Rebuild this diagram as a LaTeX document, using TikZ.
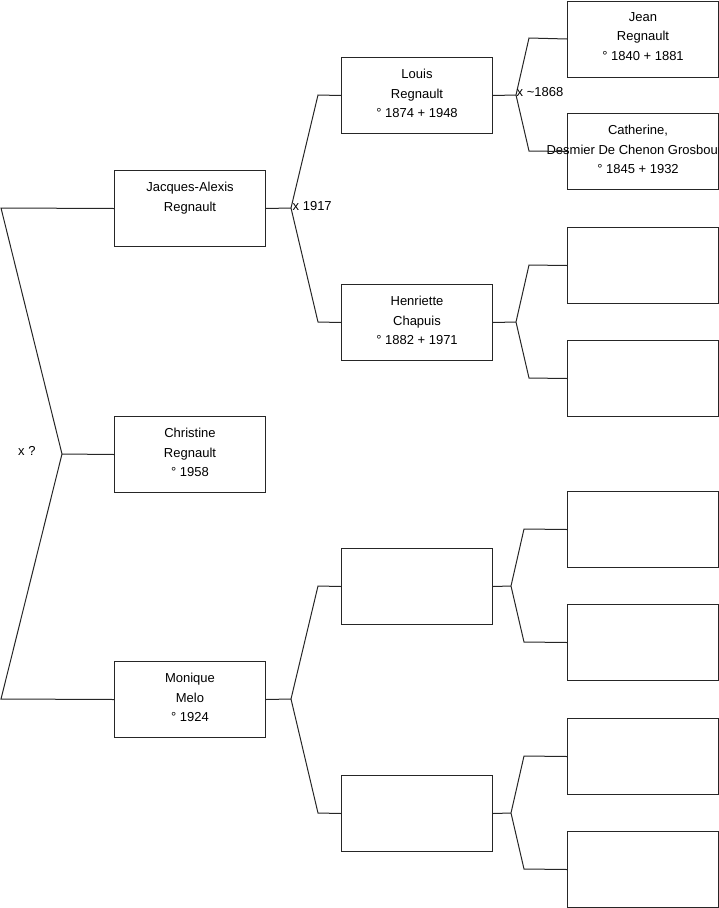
\documentclass[tikz,border=0pt]{standalone}
\usepackage{fontspec}
\setmainfont{Liberation Sans}
\definecolor{linec}{HTML}{262626}
\begin{document}
\begin{tikzpicture}[x=1pt,y=-1pt,
  box/.style={draw=linec, line width=1pt, minimum width=151pt, minimum height=76pt, inner sep=0pt, anchor=north west},
  txt/.style={anchor=north, align=center, inner sep=0pt, font=\fontsize{13}{19.5}\selectfont},
  conn/.style={draw=linec, line width=1pt},
  lbl/.style={anchor=west, inner sep=0pt, font=\fontsize{13}{15}\selectfont}]
\useasboundingbox (0,0) rectangle (719,908);
\clip (0,0) rectangle (719,908);
% generation 1
\node[box] (C) at (114,416) {};
% generation 2
\node[box] (JA) at (114,170) {};
\node[box] (M) at (114,661) {};
% generation 3
\node[box] (L) at (341,57) {};
\node[box] (H) at (341,284) {};
\node[box] (E1) at (341,548) {};
\node[box] (E2) at (341,775) {};
% generation 4
\node[box] (J) at (567,0.5) {};
\node[box] (Ca) at (567,113) {};
\node[box] (G3) at (567,227) {};
\node[box] (G4) at (567,340) {};
\node[box] (G5) at (567,491) {};
\node[box] (G6) at (567,604) {};
\node[box] (G7) at (567,718) {};
\node[box] (G8) at (567,831) {};
% texts
\node[txt] (tC) at ([yshift=-12]C.north) {Christine\\Regnault\\° 1958};
\node[txt] (tJA) at ([yshift=-12]JA.north) {Jacques-Alexis\\Regnault};
\node[txt] (tM) at ([yshift=-12]M.north) {Monique\\Melo\\° 1924};
\node[txt] (tL) at ([yshift=-12]L.north) {Louis\\Regnault\\° 1874 + 1948};
\node[txt] (tH) at ([yshift=-12]H.north) {Henriette\\Chapuis\\° 1882 + 1971};
\node[txt] (tJ) at ([yshift=-11.5]J.north) {Jean\\Regnault\\° 1840 + 1881};
\node[txt] (tCa) at ([xshift=-5,yshift=-12]Ca.north) {Catherine,\\Desmier De Chenon Grosbourg\\° 1845 + 1932};
% forks
\coordinate (fC) at (62,454);
\coordinate (fCa) at (1,208);
\coordinate (fCb) at (1,699);
\draw[conn] (JA.west) -- (fCa) -- (fC) -- (fCb) -- (M.west);
\draw[conn] (C.west) -- (fC);
\node[lbl] (xC) at (18,451) {x ?};

\coordinate (fJA) at (291,208);
\draw[conn] (JA.east) -- (fJA);
\draw[conn] (L.west) -- (318,95) -- (fJA) -- (318,322) -- (H.west);
\node[lbl] (xJA) at (292.5,206) {x 1917};

\coordinate (fM) at (291,699);
\draw[conn] (M.east) -- (fM);
\draw[conn] (E1.west) -- (318,586) -- (fM) -- (318,813) -- (E2.west);

\coordinate (fL) at (516,95);
\draw[conn] (L.east) -- (fL);
\draw[conn] (J.west) -- (529,38) -- (fL) -- (529,151) -- (Ca.west);
\node[lbl] (xL) at (516.5,92.5) {x \textasciitilde1868};

\coordinate (fH) at (516,322);
\draw[conn] (H.east) -- (fH);
\draw[conn] (G3.west) -- (529,265) -- (fH) -- (529,378) -- (G4.west);

\coordinate (fE1) at (511,586);
\draw[conn] (E1.east) -- (fE1);
\draw[conn] (G5.west) -- (524,529) -- (fE1) -- (524,642) -- (G6.west);

\coordinate (fE2) at (511,813);
\draw[conn] (E2.east) -- (fE2);
\draw[conn] (G7.west) -- (524,756) -- (fE2) -- (524,869) -- (G8.west);
\end{tikzpicture}
\end{document}
